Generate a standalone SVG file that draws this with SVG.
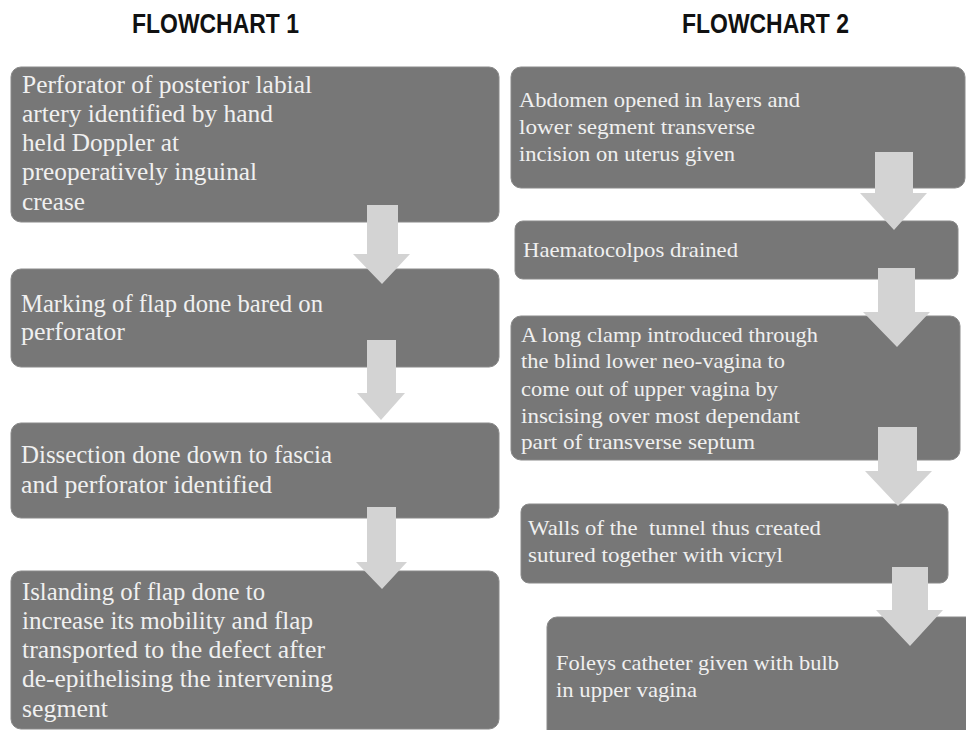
<svg xmlns="http://www.w3.org/2000/svg" width="966" height="730" viewBox="0 0 966 730">
<style>
.box{fill:#777777;stroke:#8a8a8a;stroke-width:1}
.t{font-family:"Liberation Serif",serif;fill:#f0f0f0;font-size:25px}
.tr{font-family:"Liberation Serif",serif;fill:#f0f0f0;font-size:22px}
.title{font-family:"Liberation Sans",Arial,sans-serif;font-weight:bold;font-size:27px;fill:#111111}
.arrow{fill:#d3d3d3}
.pre{white-space:pre}
</style>
<rect width="966" height="730" fill="#ffffff"/>
<text class="title" x="132" y="33" textLength="167" lengthAdjust="spacingAndGlyphs">FLOWCHART 1</text>
<text class="title" x="682" y="33" textLength="167" lengthAdjust="spacingAndGlyphs">FLOWCHART 2</text>

<g id="L1">
<rect class="box" x="11" y="67" width="488" height="155" rx="10"/>
<text class="t" x="22" y="93" textLength="290" lengthAdjust="spacingAndGlyphs">Perforator of posterior labial</text>
<text class="t" x="22" y="122" textLength="251" lengthAdjust="spacingAndGlyphs">artery identified by hand</text>
<text class="t" x="22" y="151" textLength="157" lengthAdjust="spacingAndGlyphs">held Doppler at</text>
<text class="t" x="22" y="180" textLength="235" lengthAdjust="spacingAndGlyphs">preoperatively inguinal</text>
<text class="t" x="22" y="210" textLength="63" lengthAdjust="spacingAndGlyphs">crease</text>
</g>
<g id="L2">
<rect class="box" x="11" y="269" width="488" height="98" rx="10"/>
<text class="t" x="21" y="312" textLength="302" lengthAdjust="spacingAndGlyphs">Marking of flap done bared on</text>
<text class="t" x="21" y="340" textLength="104" lengthAdjust="spacingAndGlyphs">perforator</text>
</g>
<g id="L3">
<rect class="box" x="11" y="423" width="488" height="95" rx="10"/>
<text class="t" x="21" y="463" textLength="311" lengthAdjust="spacingAndGlyphs">Dissection done down to fascia</text>
<text class="t" x="21" y="493" textLength="251" lengthAdjust="spacingAndGlyphs">and perforator identified</text>
</g>
<g id="L4">
<rect class="box" x="11" y="571" width="488" height="158" rx="10"/>
<text class="t" x="22" y="600" textLength="243" lengthAdjust="spacingAndGlyphs">Islanding of flap done to</text>
<text class="t" x="22" y="629" textLength="291" lengthAdjust="spacingAndGlyphs">increase its mobility and flap</text>
<text class="t" x="22" y="658" textLength="303" lengthAdjust="spacingAndGlyphs">transported to the defect after</text>
<text class="t" x="22" y="687" textLength="311" lengthAdjust="spacingAndGlyphs">de-epithelising the intervening</text>
<text class="t" x="22" y="717" textLength="86" lengthAdjust="spacingAndGlyphs">segment</text>
</g>

<g id="R1">
<rect class="box" x="511" y="67" width="454" height="121" rx="10"/>
<text class="tr" x="519" y="107" textLength="281" lengthAdjust="spacingAndGlyphs">Abdomen opened in layers and</text>
<text class="tr" x="519" y="134" textLength="236" lengthAdjust="spacingAndGlyphs">lower segment transverse</text>
<text class="tr" x="519" y="161" textLength="216" lengthAdjust="spacingAndGlyphs">incision on uterus given</text>
</g>
<g id="R2">
<rect class="box" x="515" y="221" width="443" height="58" rx="8"/>
<text class="tr" x="523" y="257" textLength="215" lengthAdjust="spacingAndGlyphs">Haematocolpos drained</text>
</g>
<g id="R3">
<rect class="box" x="511" y="316" width="449" height="144" rx="10"/>
<text class="tr" x="521" y="342" textLength="297" lengthAdjust="spacingAndGlyphs">A long clamp introduced through</text>
<text class="tr" x="521" y="368" textLength="264" lengthAdjust="spacingAndGlyphs">the blind lower neo-vagina to</text>
<text class="tr" x="521" y="396" textLength="257" lengthAdjust="spacingAndGlyphs">come out of upper vagina by</text>
<text class="tr" x="521" y="423" textLength="279" lengthAdjust="spacingAndGlyphs">inscising over most dependant</text>
<text class="tr" x="521" y="449" textLength="234" lengthAdjust="spacingAndGlyphs">part of transverse septum</text>
</g>
<g id="R4">
<rect class="box" x="521" y="504" width="427" height="79" rx="8"/>
<text class="tr pre" x="528" y="535" textLength="293" lengthAdjust="spacingAndGlyphs">Walls of the  tunnel thus created</text>
<text class="tr" x="528" y="562" textLength="255" lengthAdjust="spacingAndGlyphs">sutured together with vicryl</text>
</g>
<g id="R5">
<rect class="box" x="547" y="617" width="430" height="125" rx="10"/>
<text class="tr" x="556" y="670" textLength="283" lengthAdjust="spacingAndGlyphs">Foleys catheter given with bulb</text>
<text class="tr" x="556" y="697" textLength="141" lengthAdjust="spacingAndGlyphs">in upper vagina</text>
</g>

<g id="connectors">
<polygon class="arrow" points="367,205 398,205 398,254 410,254 382,284 353,254 367,254"/>
<polygon class="arrow" points="367,340 396,340 396,393 405,393 381,420 357,393 367,393"/>
<polygon class="arrow" points="367,507 396,507 396,562 407,562 382,589 356,562 367,562"/>
<polygon class="arrow" points="875,152 913,152 913,193 927,193 894,230 860,193 875,193"/>
<polygon class="arrow" points="878,268 915,268 915,312 930,312 897,347 863,312 878,312"/>
<polygon class="arrow" points="878,427 917,427 917,471 932,471 898,506 865,471 878,471"/>
<polygon class="arrow" points="892,567 928,567 928,610 943,610 910,646 876,610 892,610"/>
</g>
</svg>
